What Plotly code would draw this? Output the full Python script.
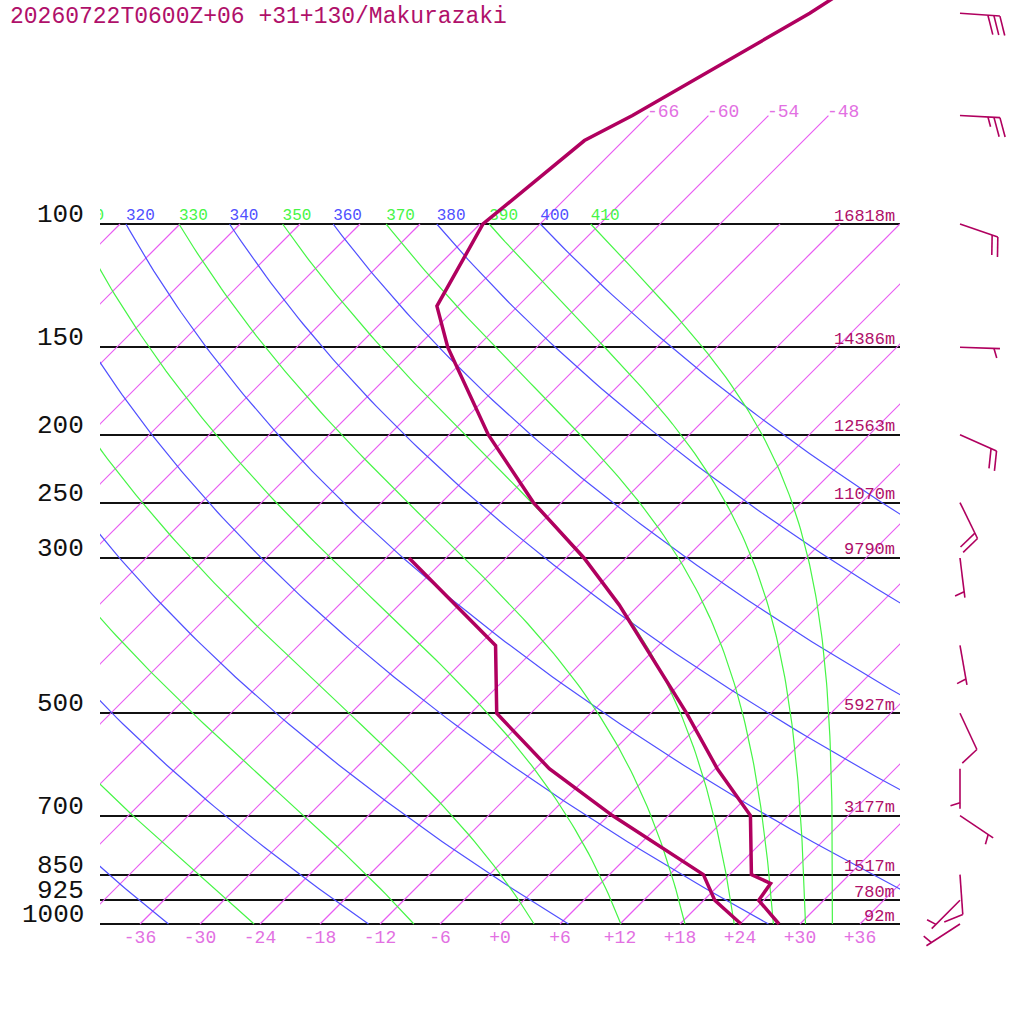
import numpy as np
import plotly.graph_objects as go

# ---------------- data ----------------
TITLE = "20260722T0600Z+06 +31+130/Makurazaki"

temp_p = [30, 50, 70, 76, 100, 131, 150, 200, 250, 300, 350, 400, 500, 600, 700, 850, 875, 925, 1000]
temp_t = [-51.6, -60.1, -67.6, -69.9, -71.7, -68.1, -62.9, -50.1, -38.8, -28.2, -20.0, -13.4,
          -2.4, 6.2, 14.2, 20.2, 23.0, 23.5, 27.9]

dew_p = [300, 400, 500, 600, 700, 850, 925, 1000]
dew_t = [-45.7, -28.3, -21.4, -10.6, 0.4, 15.4, 19.1, 24.1]

level_p = [100, 150, 200, 250, 300, 500, 700, 850, 925, 1000]
level_h = ["16818m", "14386m", "12563m", "11070m", "9790m", "5927m", "3177m", "1517m", "780m", "92m"]

wind_p = [50, 70, 100, 150, 200, 250, 300, 400, 500, 600, 700, 850, 925, 1000]
wind_dir = [94, 93, 109, 92, 114, 154, 173, 170, 155, 180, 124, 176, 225, 237]
wind_kt = [30, 25, 20, 5, 20, 20, 5, 5, 10, 5, 5, 10, 5, 5]

iso_t = list(range(-108, 37, 6))          # isotherms (deg C)
iso_top = [-66, -60, -54, -48]            # isotherms drawn up to 70 hPa with labels
iso_top_p = 70
dry_theta = [240, 260, 280, 300, 320, 340, 360, 380, 400]     # K, blue
moist_theta = [250, 270, 290, 310, 330, 350, 370, 390, 410]   # K (theta-e), green
theta_labels = [310, 320, 330, 340, 350, 360, 370, 380, 390, 400, 410]
xtick_vals = list(range(-36, 37, 6))

# ---------------- styling constants ----------------
W = H = 1024
SKEW = 70.0                 # deg C per decade of pressure
Y1000, Y100 = 924, 224      # pixel rows of 1000 and 100 hPa
PPD = (Y1000 - Y100)        # pixels per decade
LOG_TOP = 2 - Y100 / PPD
LOG_BOT = 3 + (H - Y1000) / PPD
MONO = "Liberation Mono"
C_ISO = "rgb(232,92,242)"
C_DRY = "rgb(80,80,255)"
C_MOIST = "rgb(70,245,70)"
C_PROF = "rgb(176,0,95)"
C_HGT = "rgb(176,16,106)"
C_TICK = "rgb(226,112,226)"


def skew_x(t, p):
    return np.asarray(t, float) + SKEW * np.log10(1000.0 / np.asarray(p, float))


def theta_e(tc, p):
    tk = tc + 273.15
    es = 6.112 * np.exp(17.67 * tc / (tc + 243.5))
    es = np.minimum(es, 0.5 * p)
    r = 622.0 * es / (p - es)
    th = tk * (1000.0 / p) ** (0.2854 * (1 - 0.00028 * r))
    return th * np.exp((3.376 / tk - 0.00254) * r * (1 + 0.00081 * r))


def moist_T(the, p):
    lo = np.full_like(p, -150.0)
    hi = np.full_like(p, 60.0)
    for _ in range(60):
        mid = 0.5 * (lo + hi)
        f = theta_e(mid, p) - the
        lo = np.where(f < 0, mid, lo)
        hi = np.where(f >= 0, mid, hi)
    return 0.5 * (lo + hi)


def tolist(a):
    return [float(v) for v in a]


fig = go.Figure()

# isotherms
xs, ys = [], []
for t in iso_t:
    ptop = iso_top_p if t in iso_top else 100
    xs += tolist(skew_x([t, t], [1000, ptop])) + [None]
    ys += [1000, ptop, None]
fig.add_trace(go.Scatter(x=xs, y=ys, mode="lines", line=dict(color=C_ISO, width=1.2), hoverinfo="skip"))

pp = np.logspace(3, 2, 120)
# dry adiabats
xs, ys = [], []
for th in dry_theta:
    t = th * (pp / 1000.0) ** 0.2857 - 273.15
    xs += tolist(skew_x(t, pp)) + [None]
    ys += tolist(pp) + [None]
fig.add_trace(go.Scatter(x=xs, y=ys, mode="lines", line=dict(color=C_DRY, width=1.2), hoverinfo="skip"))

# moist adiabats
xs, ys = [], []
for th in moist_theta:
    t = moist_T(th, pp)
    xs += tolist(skew_x(t, pp)) + [None]
    ys += tolist(pp) + [None]
fig.add_trace(go.Scatter(x=xs, y=ys, mode="lines", line=dict(color=C_MOIST, width=1.2), hoverinfo="skip"))

# theta labels at 100 hPa
lab_x, lab_c = [], []
for th in theta_labels:
    if th in dry_theta:
        t = th * 0.1 ** 0.2857 - 273.15
        lab_c.append(C_DRY)
    else:
        t = float(moist_T(th, np.array([100.0]))[0])
        lab_c.append(C_MOIST)
    lab_x.append(float(skew_x(t, 100)))
fig.add_trace(go.Scatter(x=lab_x, y=[100] * len(lab_x), mode="text", text=[str(v) for v in theta_labels],
                         textposition="top right", cliponaxis=True,
                         textfont=dict(family=MONO, size=16, color=lab_c), hoverinfo="skip"))

# profiles
fig.add_trace(go.Scatter(x=tolist(skew_x(dew_t, dew_p)), y=dew_p, mode="lines",
                         line=dict(color=C_PROF, width=3.5), hoverinfo="skip"))
fig.add_trace(go.Scatter(x=tolist(skew_x(temp_t, temp_p)), y=temp_p, mode="lines",
                         line=dict(color=C_PROF, width=3.5), hoverinfo="skip"))

# wind barbs (x in page pixels on xaxis2, y in pressure on yaxis2)
BX, STAFF, SP, FULL, HALF, ANG = 960, 40, 6, 20, 10, np.radians(72)
bx, by = [], []


def scr(x, dy, p0):
    return float(x), float(p0 * 10 ** (dy / PPD))


for p0, d, s in zip(wind_p, wind_dir, wind_kt):
    dr = np.radians(d)
    ux, uy = np.sin(dr), -np.cos(dr)
    fx = ux * np.cos(ANG) - uy * np.sin(ANG)
    fy = ux * np.sin(ANG) + uy * np.cos(ANG)
    tx, ty = BX + STAFF * ux, STAFF * uy
    for (x, dy) in [(BX, 0), (tx, ty)]:
        X, P = scr(x, dy, p0)
        bx.append(X); by.append(P)
    bx.append(None); by.append(None)
    nf, nh = s // 10, (s % 10) // 5
    feats = [FULL] * nf + [HALF] * nh
    start = 1 if (nf == 0 and nh == 1) else 0
    for i, L in enumerate(feats):
        k = i + start
        sx, sy = tx - k * SP * ux, ty - k * SP * uy
        for (x, dy) in [(sx, sy), (sx + L * fx, sy + L * fy)]:
            X, P = scr(x, dy, p0)
            bx.append(X); by.append(P)
        bx.append(None); by.append(None)
fig.add_trace(go.Scatter(x=bx, y=by, xaxis="x2", yaxis="y2", mode="lines",
                         line=dict(color=C_PROF, width=1.6), hoverinfo="skip"))

# annotations
ann = []
ann.append(dict(text=TITLE, xref="paper", yref="paper", x=8 / W, y=1 - 17 / H, xanchor="left", yanchor="middle",
                showarrow=False, font=dict(family=MONO, size=23, color=C_HGT)))
for p, h in zip(level_p, level_h):
    ann.append(dict(text=h, xref="x", yref="y", x=40, y=float(np.log10(p)), xanchor="right", yanchor="middle",
                    xshift=-3, yshift=8, showarrow=False, font=dict(family=MONO, size=17, color=C_HGT)))
for t in iso_top:
    ann.append(dict(text=str(t), xref="x", yref="y", x=float(skew_x(t, iso_top_p)), y=float(np.log10(iso_top_p)),
                    xanchor="left", yanchor="middle", xshift=-3, yshift=4, showarrow=False,
                    font=dict(family=MONO, size=18, color=C_TICK)))
for p in level_p:
    ann.append(dict(text=str(p), xref="paper", yref="y", x=86 / W, y=float(np.log10(p)), xanchor="right",
                    yanchor="middle", yshift=9, showarrow=False, font=dict(family=MONO, size=26, color="#111111")))

fig.update_layout(
    width=W, height=H, margin=dict(l=0, r=0, t=0, b=0),
    paper_bgcolor="white", plot_bgcolor="white", showlegend=False,
    annotations=ann,
    xaxis=dict(domain=[100 / W, 900 / W], range=[-40, 40], anchor="free", position=(H - Y1000) / H,
               showgrid=False, zeroline=False, showline=False, ticks="",
               tickmode="array", tickvals=xtick_vals,
               ticktext=[("+" if v >= 0 else "-") + str(abs(v)) for v in xtick_vals],
               tickfont=dict(family=MONO, size=18, color=C_TICK)),
    yaxis=dict(domain=[0, 1], type="log", range=[LOG_BOT, LOG_TOP], anchor="x",
               tickmode="array", tickvals=level_p, showticklabels=False,
               showgrid=True, gridcolor="#111111", gridwidth=2, zeroline=False, showline=False, ticks=""),
    xaxis2=dict(domain=[900 / W, 1], range=[900, 1024], anchor="y2", visible=False),
    yaxis2=dict(domain=[0, 1], type="log", range=[LOG_BOT, LOG_TOP], anchor="x2", visible=False,
                showgrid=False),
)

fig.write_html("out.html", config={"displayModeBar": False},
               post_script="document.body.style.margin='0';document.body.style.overflow='hidden';")
